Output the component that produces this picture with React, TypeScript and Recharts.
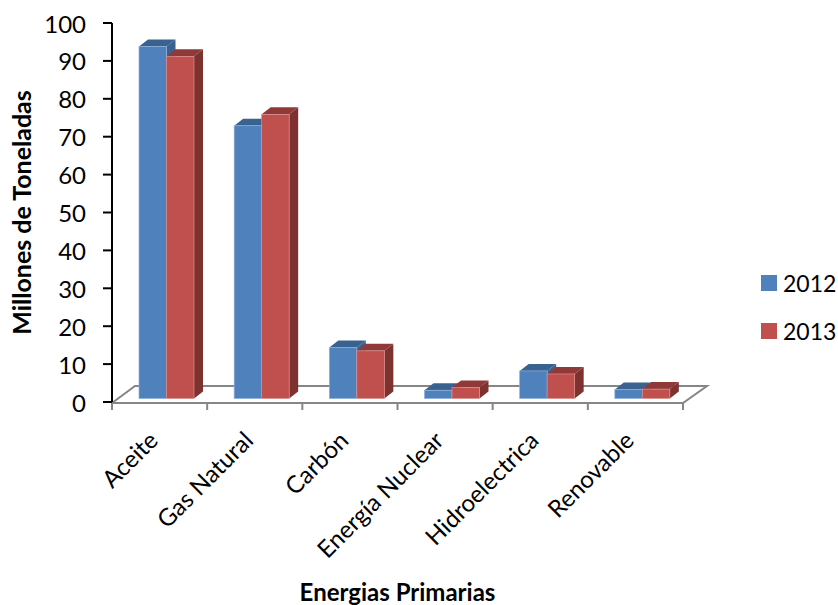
import React from 'react'
import { BarChart, Bar, XAxis, YAxis, Legend, usePlotArea } from 'recharts'

const categories = ['Aceite', 'Gas Natural', 'Carbón', 'Energía Nuclear', 'Hidroelectrica', 'Renovable']
const values2012 = [93.8, 72.9, 14.4, 3.1, 8.2, 3.3]
const values2013 = [91.2, 75.9, 13.5, 3.8, 7.4, 3.4]
const yTicks = [0, 10, 20, 30, 40, 50, 60, 70, 80, 90, 100]

const chartData = categories.map((name, i) => ({ name, y2012: values2012[i], y2013: values2013[i] }))

const FONT = 'Lato, Carlito, sans-serif'
const DEPTH_X = 9
const DEPTH_Y = 7
const BAR_SHIFT = 7
const BASE_LIFT = 3.5
const FLOOR = '#868686'

// front face plus the top and side faces that give the bar its depth
function Bar3D({ x, y, width, height, fill, topFill, sideFill, edge }: any) {
    const left = x + BAR_SHIFT
    const right = left + width
    const bottom = y + height - BASE_LIFT
    return (
        <g>
            <polygon
                points={`${right},${y} ${right + DEPTH_X},${y - DEPTH_Y} ${right + DEPTH_X},${bottom - DEPTH_Y} ${right},${bottom}`}
                fill={sideFill}
            />
            <polygon
                points={`${left},${y} ${left + DEPTH_X},${y - DEPTH_Y} ${right + DEPTH_X},${y - DEPTH_Y} ${right},${y}`}
                fill={topFill}
            />
            <rect x={left} y={y} width={width} height={bottom - y} fill={fill} stroke={edge} strokeWidth={0.7} />
        </g>
    )
}

// floor of the 3D plot, with the category ticks on the band edges
function Floor() {
    const plot = usePlotArea()
    if (!plot) return null
    const left = plot.x
    const right = plot.x + plot.width
    const front = plot.y + plot.height + 1
    const back = front - 17
    const band = plot.width / categories.length
    return (
        <g stroke={FLOOR} strokeWidth={2} fill="none">
            <polyline points={`${left},${front} ${left + 23},${back} ${right + 24},${back} ${right},${front} ${left},${front}`} />
            {Array.from({ length: categories.length + 1 }, (_, i) => (
                <line key={i} x1={left + band * i} x2={left + band * i} y1={front} y2={front + 7} />
            ))}
        </g>
    )
}

function CategoryTick({ x, y, payload }: any) {
    return (
        <text
            transform={`translate(${x},${y + 32}) rotate(-45)`}
            textAnchor="end"
            fontFamily={FONT}
            fontSize={24}
            fill="#000"
        >
            {payload.value}
        </text>
    )
}

function LegendList({ payload }: any) {
    return (
        <div>
            {payload.map((entry: any) => (
                <div key={entry.value} style={{ display: 'flex', alignItems: 'center', height: 48, fontFamily: FONT, fontSize: 23, color: '#000' }}>
                    <span style={{ width: 16, height: 16, background: entry.color, marginRight: 6 }} />
                    {entry.value}
                </div>
            ))}
        </div>
    )
}

export default function App() {
    return (
        <div style={{ position: 'absolute', left: 0, top: 0, width: 838, height: 605, background: '#fff', overflow: 'hidden' }}>
            <BarChart
                width={838}
                height={605}
                data={chartData}
                margin={{ top: 23, right: 75, bottom: 0, left: 0 }}
                barCategoryGap={40}
                barGap={0}
                barSize={27.5}
            >
                <Floor />
                <XAxis
                    dataKey="name"
                    interval={0}
                    height={203}
                    axisLine={false}
                    tickLine={false}
                    tick={<CategoryTick />}
                    label={{ value: 'Energias Primarias', position: 'insideBottom', offset: 4, fontFamily: FONT, fontSize: 24, fontWeight: 700, fill: '#000' }}
                />
                <YAxis
                    width={112}
                    domain={[0, 100]}
                    ticks={yTicks}
                    interval={0}
                    axisLine={{ stroke: '#000', strokeWidth: 2 }}
                    tickLine={{ stroke: '#000', strokeWidth: 2 }}
                    tickSize={9}
                    tickMargin={17}
                    tick={{ fontFamily: FONT, fontSize: 24, fill: '#000', dy: 1 }}
                    label={{ value: 'Millones de Toneladas', angle: -90, position: 'insideLeft', offset: 22, textAnchor: 'middle', fontFamily: FONT, fontSize: 25, fontWeight: 700, fill: '#000' }}
                />
                <Legend
                    layout="vertical"
                    align="right"
                    verticalAlign="top"
                    wrapperStyle={{ left: 761, top: 259, width: 80 }}
                    content={<LegendList />}
                />
                <Bar
                    dataKey="y2012"
                    name="2012"
                    fill="#4F81BD"
                    isAnimationActive={false}
                    shape={<Bar3D topFill="#3A6291" sideFill="#3A6291" edge="#8FB0DA" />}
                />
                <Bar
                    dataKey="y2013"
                    name="2013"
                    fill="#C0504D"
                    isAnimationActive={false}
                    shape={<Bar3D topFill="#8F3A38" sideFill="#7D3230" edge="#D9908E" />}
                />
            </BarChart>
        </div>
    )
}
